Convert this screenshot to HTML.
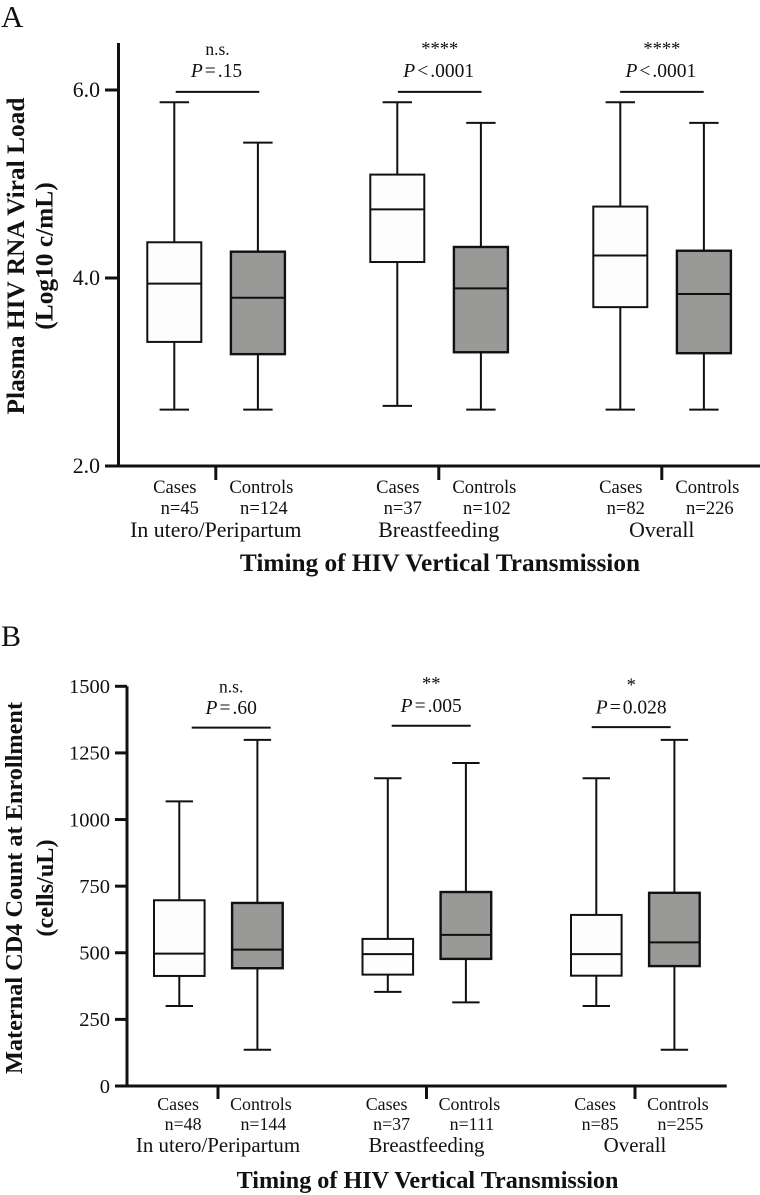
<!DOCTYPE html>
<html lang="en">
<head>
<meta charset="utf-8">
<title>HIV viral load and CD4 count by timing of vertical transmission</title>
<style>
html,body{margin:0;padding:0;background:#fff;}
svg{display:block;}
text{font-family:"Liberation Serif",serif;fill:#111;}
</style>
</head>
<body>
<svg id="figure" width="760" height="1195" viewBox="0 0 760 1195" xmlns="http://www.w3.org/2000/svg"></svg>
<script>
/* ---------- Shared ---------- */
const groupNames = ['In utero/Peripartum', 'Breastfeeding', 'Overall'];
const seriesNames = ['Cases', 'Controls'];

/* ---------- Panel A data: [low, q1, median, q3, high] ---------- */
const aCases = [
  [2.60, 3.32, 3.94, 4.38, 5.87],
  [2.64, 4.17, 4.73, 5.10, 5.87],
  [2.60, 3.69, 4.24, 4.76, 5.87]
];
const aControls = [
  [2.60, 3.19, 3.79, 4.28, 5.44],
  [2.60, 3.21, 3.89, 4.33, 5.65],
  [2.60, 3.20, 3.83, 4.29, 5.65]
];
const aCaseCounts = ['n=45', 'n=37', 'n=82'];
const aControlCounts = ['n=124', 'n=102', 'n=226'];
const aSignificance = ['n.s.', '****', '****'];
const aPValues = ['= .15', '< .0001', '< .0001'];
const aBracketLevels = [5.98, 5.98, 5.98];
const aTicks = [2, 4, 6];
const aTickLabels = ['2.0', '4.0', '6.0'];

/* ---------- Panel B data: [low, q1, median, q3, high] ---------- */
const bCases = [
  [300, 413, 497, 697, 1068],
  [353, 418, 495, 552, 1155],
  [300, 414, 495, 642, 1155]
];
const bControls = [
  [136, 442, 512, 687, 1299],
  [314, 477, 567, 728, 1212],
  [136, 450, 539, 725, 1299]
];
const bCaseCounts = ['n=48', 'n=37', 'n=85'];
const bControlCounts = ['n=144', 'n=111', 'n=255'];
const bSignificance = ['n.s.', '**', '*'];
const bPValues = ['= .60', '= .005', '= 0.028'];
const bBracketLevels = [1345, 1352, 1347];
const bTicks = [0, 250, 500, 750, 1000, 1250, 1500];
const bTickLabels = ['0', '250', '500', '750', '1000', '1250', '1500'];

const NS = 'http://www.w3.org/2000/svg';
const svg = document.getElementById('figure');

function make(parent, tag, attrs, name) {
  const el = document.createElementNS(NS, tag);
  for (const k in attrs) el.setAttribute(k, attrs[k]);
  
  
  parent.appendChild(el);
  return el;
}
function line(parent, x1, y1, x2, y2, w, name) {
  return make(parent, 'line', {x1, y1, x2, y2, stroke: '#111', 'stroke-width': w}, name);
}
function label(parent, str, x, y, size, name, extra) {
  const t = make(parent, 'text', Object.assign({x, y, 'font-size': size, 'text-anchor': 'middle'}, extra || {}), name);
  t.textContent = str;
  return t;
}

function drawPanel(p) {
  const g = make(svg, 'g', {}, p.id + '-chart');
  const yScale = v => p.yTop + (p.vTop - v) * (p.yBottom - p.yTop) / (p.vTop - p.vBottom);
  const groupX = i => p.firstGroup + p.groupStep * i;
  const boxX = (i, s) => groupX(i) + (s === 0 ? 0 : p.pairStep);
  const tickX = i => p.firstTick + p.groupStep * i;

  const panelLabel = make(g, 'text', {x: p.letterX, y: p.letterY, 'font-size': p.letterSize}, p.id + '-letter');
  panelLabel.textContent = p.letter;

  /* axes */
  line(g, p.axisX, p.axisTop, p.axisX, p.yBottom + 1.5, 3, p.id + '-y-axis');
  line(g, p.axisLeft, p.yBottom, p.axisRight, p.yBottom, 3, p.id + '-x-axis');
  p.ticks.forEach((v, i) => {
    const y = yScale(v);
    if (v !== p.vBottom) line(g, p.axisLeft, y, p.axisX, y, 3, p.id + '-y-tick');
    label(g, p.tickLabels[i], p.axisLeft - 5, y + p.tickSize * 0.33, p.tickSize, p.id + '-y-tick-label', {'text-anchor': 'end'});
  });

  /* boxes */
  [p.cases, p.controls].forEach((series, s) => {
    series.forEach((d, i) => {
      const cx = boxX(i, s);
      const [low, q1, med, q3, high] = d;
      const bg = make(g, 'g', {}, p.id + '-box-' + seriesNames[s].toLowerCase() + '-' + (i + 1));
      line(bg, cx, yScale(high), cx, yScale(low), 2, 'whisker');
      line(bg, cx - p.capHalf, yScale(high), cx + p.capHalf, yScale(high), 2, 'whisker-cap-high');
      line(bg, cx - p.capHalf, yScale(low), cx + p.capHalf, yScale(low), 2, 'whisker-cap-low');
      make(bg, 'rect', {
        x: cx - p.boxHalf, y: yScale(q3), width: p.boxHalf * 2, height: yScale(q1) - yScale(q3),
        fill: s === 0 ? '#fdfdfd' : '#999998', stroke: '#111', 'stroke-width': s === 0 ? 2 : 2.4
      }, 'box');
      line(bg, cx - p.boxHalf, yScale(med), cx + p.boxHalf, yScale(med), 2, 'median-line');
    });
  });

  /* x axis ticks and labels */
  groupNames.forEach((name, i) => {
    const tx = tickX(i);
    line(g, tx, p.yBottom, tx, p.yBottom + p.xTickLen, 3, p.id + '-x-tick');
    label(g, seriesNames[0], boxX(i, 0) + p.caseOff, p.row1, p.rowSize, p.id + '-cases-label');
    label(g, p.caseCounts[i], boxX(i, 0) + p.caseOff + 5, p.row2, p.rowSize, p.id + '-cases-count');
    label(g, seriesNames[1], boxX(i, 1) + p.ctrlOff, p.row1, p.rowSize, p.id + '-controls-label');
    label(g, p.controlCounts[i], boxX(i, 1) + p.ctrlOff + 2.5, p.row2, p.rowSize, p.id + '-controls-count');
    label(g, name, tx, p.row3, p.groupSize, p.id + '-group-label');

    /* significance */
    const bx = p.firstBracket + p.bracketStep * i;
    const by = yScale(p.brackets[i]);
    line(g, bx, by, bx + p.bracketWidth, by, 2, p.id + '-significance-bracket');
    const mid = bx + p.bracketWidth / 2;
    label(g, p.sig[i], mid, by + (p.sig[i] === 'n.s.' ? p.nsOff : p.starOff), p.sig[i] === 'n.s.' ? 17.5 : 18.5, p.id + '-significance-marker');
    const parts = p.pvals[i].split(' ');
    const pt = make(g, 'text', {x: mid + p.pShift, y: by + p.pOff, 'font-size': p.pSize, 'text-anchor': 'middle'}, p.id + '-p-value');
    const t1 = document.createElementNS(NS, 'tspan');
    t1.setAttribute('font-style', 'italic');
    t1.textContent = 'P';
    pt.appendChild(t1);
    const t2 = document.createElementNS(NS, 'tspan');
    t2.setAttribute('dx', '2');
    t2.textContent = parts[0];
    pt.appendChild(t2);
    const t3 = document.createElementNS(NS, 'tspan');
    t3.setAttribute('dx', '2');
    t3.textContent = parts[1];
    pt.appendChild(t3);
  });

  /* titles */
  label(g, 'Timing of HIV Vertical Transmission', p.xTitleX, p.xTitleY, p.xTitleSize, p.id + '-x-axis-title', {'font-weight': 'bold'});
  label(g, p.yTitle1, 0, 0, p.yTitle1Size, p.id + '-y-axis-title', {'font-weight': 'bold', transform: 'translate(' + p.yTitle1X + ' ' + p.yTitleY + ') rotate(-90)'});
  label(g, p.yTitle2, 0, 0, p.yTitle1Size, p.id + '-y-axis-subtitle', {'font-weight': 'bold', transform: 'translate(' + p.yTitle2X + ' ' + p.yTitleY + ') rotate(-90)'});
}

drawPanel({
  id: 'panel-a', letter: 'A', letterX: 1, letterY: 27, letterSize: 31,
  cases: aCases, controls: aControls, caseCounts: aCaseCounts, controlCounts: aControlCounts,
  sig: aSignificance, pvals: aPValues, brackets: aBracketLevels, ticks: aTicks, tickLabels: aTickLabels,
  vTop: 6, vBottom: 2, yTop: 90, yBottom: 466,
  axisX: 118.5, axisTop: 43, axisLeft: 105, axisRight: 760,
  firstGroup: 174.3, groupStep: 223, pairStep: 83.6, firstTick: 215.8,
  boxHalf: 27, capHalf: 14.7, xTickLen: 14,
  caseOff: 0.5, ctrlOff: 3.5, row1: 493, row2: 514, row3: 537,
  rowSize: 18.6, groupSize: 21.8, tickSize: 21.8,
  firstBracket: 175.7, bracketStep: 222.2, bracketWidth: 83.6,
  nsOff: -37, starOff: -37.5, pOff: -15, pSize: 19.5, pShift: -1,
  xTitleX: 440, xTitleY: 571, xTitleSize: 25.3,
  yTitle1: 'Plasma HIV RNA Viral Load', yTitle2: '(Log10 c/mL)',
  yTitle1X: 24, yTitle2X: 52.5, yTitleY: 256, yTitle1Size: 25.4
});

drawPanel({
  id: 'panel-b', letter: 'B', letterX: 1, letterY: 646, letterSize: 30,
  cases: bCases, controls: bControls, caseCounts: bCaseCounts, controlCounts: bControlCounts,
  sig: bSignificance, pvals: bPValues, brackets: bBracketLevels, ticks: bTicks, tickLabels: bTickLabels,
  vTop: 1500, vBottom: 0, yTop: 686.3, yBottom: 1086,
  axisX: 127, axisTop: 686.3, axisLeft: 115, axisRight: 726.7,
  firstGroup: 179.3, groupStep: 208.5, pairStep: 78.1, firstTick: 218,
  boxHalf: 25.3, capHalf: 13.7, xTickLen: 13,
  caseOff: -1.2, ctrlOff: 3.5, row1: 1110, row2: 1130, row3: 1152,
  rowSize: 17.9, groupSize: 20.9, tickSize: 20.5,
  firstBracket: 191.7, bracketStep: 200, bracketWidth: 79,
  nsOff: -35, starOff: -36, pOff: -13.5, pSize: 19.5, pShift: 0,
  xTitleX: 427.5, xTitleY: 1188, xTitleSize: 24.15,
  yTitle1: 'Maternal CD4 Count at Enrollment', yTitle2: '(cells/uL)',
  yTitle1X: 22, yTitle2X: 53, yTitleY: 888, yTitle1Size: 24.3
});
</script>
</body>
</html>
